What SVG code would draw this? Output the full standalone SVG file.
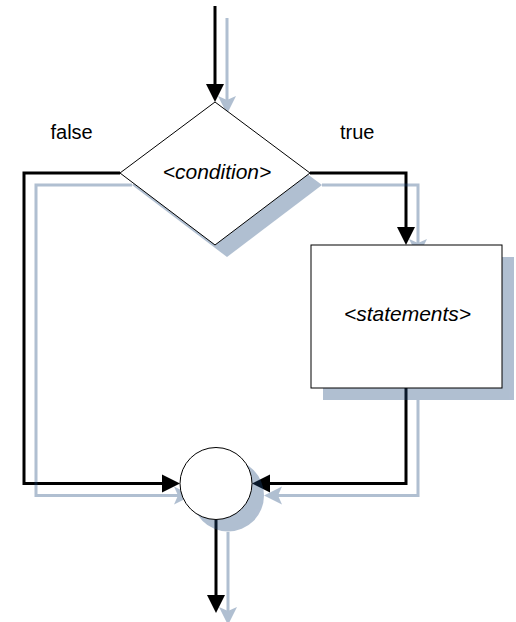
<svg xmlns="http://www.w3.org/2000/svg" width="516" height="622" viewBox="0 0 516 622">
  <style>
    .flow { fill: none; stroke: #000; stroke-width: 3; marker-end: url(#arrow); }
    .flow-sh { fill: none; stroke: #1F497D; stroke-width: 3; marker-end: url(#arrow-sh); }
    .node { fill: #fff; stroke: #000; stroke-width: 1; }
    .node-sh { fill: #1F497D; stroke: none; }
    .label { font-family: "Liberation Sans", Arial, sans-serif; font-size: 20px; fill: #000; }
    .inner { font-family: "Liberation Sans", Arial, sans-serif; font-size: 21px; font-style: italic; fill: #000; text-anchor: middle; }
  </style>
  <defs>
    <marker id="arrow" markerUnits="userSpaceOnUse" markerWidth="18" markerHeight="18" refX="8" refY="9" orient="auto" overflow="visible">
      <path d="M0,0 L18,9 L0,18 Z" fill="#000"/>
    </marker>
    <marker id="arrow-sh" markerUnits="userSpaceOnUse" markerWidth="18" markerHeight="18" refX="8" refY="9" orient="auto" overflow="visible">
      <path d="M0,0 L18,9 L0,18 L4,9 Z" fill="#1F497D"/>
    </marker>
  </defs>

  <!-- connectors -->
  <g id="connectors">
    <path class="flow" d="M215,6 V92"/>
    <path class="flow" d="M120,173 H24 V483.5 H170"/>
    <path class="flow" d="M310,173 H406 V235"/>
    <path class="flow" d="M406,388 V483.5 H262"/>
    <path class="flow" d="M216,520 V603"/>
  </g>

  <!-- drop shadows of the whole flow, offset down-right -->
  <g id="shadows" opacity="0.35" transform="translate(12,12)">
    <path class="flow-sh" d="M215,6 V92"/>
    <path class="flow-sh" d="M120,173 H24 V483.5 H170"/>
    <path class="flow-sh" d="M310,173 H406 V235"/>
    <path class="flow-sh" d="M406,388 V483.5 H262"/>
    <path class="flow-sh" d="M216,520 V603"/>
    <polygon class="node-sh" points="215,102 310,173 215,245 120,173"/>
    <rect class="node-sh" x="311" y="245" width="191" height="143"/>
    <circle class="node-sh" cx="216" cy="483.5" r="36"/>
  </g>

  <!-- decision -->
  <g id="condition">
    <polygon class="node" points="215,102 310,173 215,245 120,173"/>
    <text class="inner" x="217" y="179">&lt;condition&gt;</text>
  </g>

  <!-- branch body -->
  <g id="statements">
    <rect class="node" x="311" y="245" width="191" height="143"/>
    <text class="inner" x="407.5" y="321">&lt;statements&gt;</text>
  </g>

  <!-- merge point -->
  <g id="merge">
    <circle class="node" cx="216" cy="483.5" r="36"/>
  </g>

  <!-- branch labels -->
  <g id="labels">
    <text class="label" x="50.5" y="139">false</text>
    <text class="label" x="340" y="139">true</text>
  </g>
</svg>
